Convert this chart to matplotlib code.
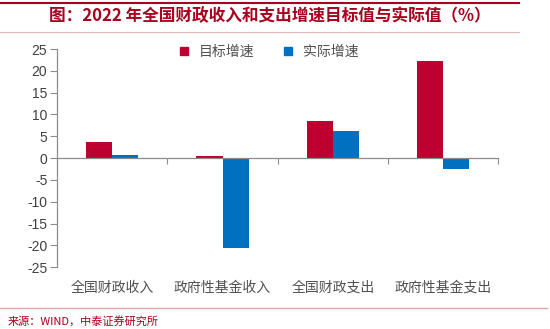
import matplotlib.pyplot as plt
from matplotlib.lines import Line2D
import numpy as np

plt.rcParams['font.family'] = ['Noto Sans CJK SC', 'DejaVu Sans']

categories = ['全国财政收入', '政府性基金收入', '全国财政支出', '政府性基金支出']
target = [3.8, 0.4, 8.4, 22.2]
actual = [0.6, -20.6, 6.1, -2.5]
yticks = [25, 20, 15, 10, 5, 0, -5, -10, -15, -20, -25]

red = '#BE0030'
blue = '#0070C0'
grey = '#8C8C8C'
title_red = '#A8001E'

fig = plt.figure(figsize=(5.5, 3.29), dpi=100)
ax = fig.add_axes([0.1036, 0.188, 0.8027, 0.663])

x = np.arange(len(categories))
w = 0.236
ax.bar(x - w / 2, target, w, color=red, label='目标增速')
ax.bar(x + w / 2, actual, w, color=blue, label='实际增速')

ax.set_xlim(-0.5, len(categories) - 0.5)
ax.set_ylim(-25, 25)
ax.set_yticks(yticks)
ax.set_yticklabels([str(v) for v in yticks], family='Liberation Sans',
                   fontsize=10, color='#404040')
ax.tick_params(axis='y', direction='out', length=5, width=0.8, color=grey, pad=2)

# zero line acts as category axis
ax.spines['bottom'].set_position(('data', 0))
ax.spines['bottom'].set_color(grey)
ax.spines['bottom'].set_linewidth(0.9)
ax.set_xticks(list(x[1:] - 0.5) + [len(categories) - 0.5])
ax.set_xticklabels([])
ax.tick_params(axis='x', direction='out', length=4, width=0.8, color=grey)
ax.spines['left'].set_color(grey)
ax.spines['left'].set_linewidth(0.9)
ax.spines['top'].set_visible(False)
ax.spines['right'].set_visible(False)

for xi, name in zip(x, categories):
    ax.text(xi, -0.095, name, transform=ax.get_xaxis_transform(),
            ha='center', va='center', fontsize=10, color='#505050')

handles = [Line2D([], [], marker='s', linestyle='', markersize=6, color=red),
           Line2D([], [], marker='s', linestyle='', markersize=6, color=blue)]
ax.legend(handles, ['目标增速', '实际增速'], loc='upper center',
          bbox_to_anchor=(0.47, 1.075), ncol=2, frameon=False, fontsize=10,
          handletextpad=0.1, columnspacing=1.4, labelcolor='#505050')

# header and footer
fig.add_artist(Line2D([0, 0.943], [0.992, 0.992], color=title_red, linewidth=1.5))
fig.add_artist(Line2D([0, 0.943], [0.904, 0.904], color='#E3B5B5', linewidth=0.8))
fig.text(0.49, 0.952, '图：2022 年全国财政收入和支出增速目标值与实际值（%）',
         ha='center', va='center', fontsize=12, fontweight='bold', color=title_red)
fig.add_artist(Line2D([0, 0.995], [0.064, 0.064], color='#DDA8A8', linewidth=1.0))
fig.text(0.014, 0.022, '来源：WIND，中泰证券研究所', ha='left', va='center',
         fontsize=8, color=title_red)

fig.savefig('out.png', dpi=100)
